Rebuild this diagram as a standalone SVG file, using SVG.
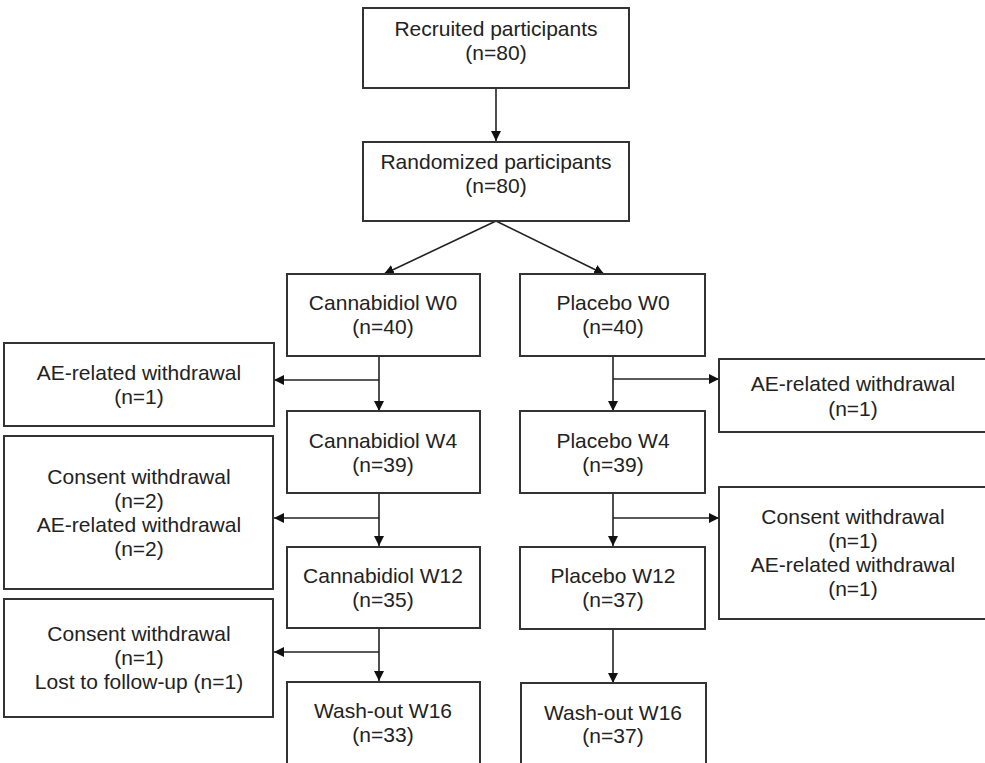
<svg xmlns="http://www.w3.org/2000/svg" width="985" height="763" viewBox="0 0 985 763">
<style>
.box{fill:#fff;stroke:#333;stroke-width:2}
.t{font-family:"Liberation Sans",Arial,sans-serif;font-size:21px;fill:#222;text-anchor:middle}
.c{fill:none;stroke:#222;stroke-width:1.6}
</style>
<defs>
<marker id="ah" markerUnits="userSpaceOnUse" markerWidth="11" markerHeight="10" refX="10" refY="5" orient="auto">
<path d="M0,0 L10,5 L0,10 z" fill="#111"/>
</marker>
</defs>
<rect width="985" height="763" fill="#fff"/>
<g id="connectors">
<path class="c" d="M496,88 V141" marker-end="url(#ah)"/>
<path class="c" d="M496,221 L384,274" marker-end="url(#ah)"/>
<path class="c" d="M496,221 L604,274" marker-end="url(#ah)"/>
<path class="c" d="M379,356 V411" marker-end="url(#ah)"/>
<path class="c" d="M379,380 H274" marker-end="url(#ah)"/>
<path class="c" d="M379,493 V546" marker-end="url(#ah)"/>
<path class="c" d="M379,518 H274" marker-end="url(#ah)"/>
<path class="c" d="M379,628 V681" marker-end="url(#ah)"/>
<path class="c" d="M379,652 H274" marker-end="url(#ah)"/>
<path class="c" d="M613,356 V411" marker-end="url(#ah)"/>
<path class="c" d="M613,379 H719" marker-end="url(#ah)"/>
<path class="c" d="M613,493 V546" marker-end="url(#ah)"/>
<path class="c" d="M613,518 H719" marker-end="url(#ah)"/>
<path class="c" d="M613,629 V683" marker-end="url(#ah)"/>
</g>
<g id="recruited">
<rect class="box" x="363" y="8" width="266" height="80"/>
<text class="t" x="496" y="36">Recruited participants</text>
<text class="t" x="496" y="60">(n=80)</text>
</g>
<g id="randomized">
<rect class="box" x="363" y="142" width="266" height="79"/>
<text class="t" x="496" y="169">Randomized participants</text>
<text class="t" x="496" y="193">(n=80)</text>
</g>
<g id="cbd-w0">
<rect class="box" x="287" y="274" width="193" height="82"/>
<text class="t" x="383" y="310">Cannabidiol W0</text>
<text class="t" x="383" y="334">(n=40)</text>
</g>
<g id="pl-w0">
<rect class="box" x="520" y="274" width="185" height="82"/>
<text class="t" x="613" y="310">Placebo W0</text>
<text class="t" x="613" y="334">(n=40)</text>
</g>
<g id="cbd-ae1">
<rect class="box" x="4" y="343" width="270" height="83"/>
<text class="t" x="139" y="380">AE-related withdrawal</text>
<text class="t" x="139" y="404">(n=1)</text>
</g>
<g id="pl-ae1">
<rect class="box" x="719" y="359" width="270" height="73"/>
<text class="t" x="853" y="391">AE-related withdrawal</text>
<text class="t" x="853" y="416">(n=1)</text>
</g>
<g id="cbd-w4">
<rect class="box" x="287" y="411" width="193" height="82"/>
<text class="t" x="383" y="448">Cannabidiol W4</text>
<text class="t" x="383" y="472">(n=39)</text>
</g>
<g id="pl-w4">
<rect class="box" x="520" y="411" width="185" height="82"/>
<text class="t" x="613" y="448">Placebo W4</text>
<text class="t" x="613" y="472">(n=39)</text>
</g>
<g id="cbd-wd2">
<rect class="box" x="4" y="436" width="269" height="153"/>
<text class="t" x="139" y="484">Consent withdrawal</text>
<text class="t" x="139" y="508">(n=2)</text>
<text class="t" x="139" y="532">AE-related withdrawal</text>
<text class="t" x="139" y="556">(n=2)</text>
</g>
<g id="pl-wd2">
<rect class="box" x="719" y="487" width="270" height="132"/>
<text class="t" x="853" y="524">Consent withdrawal</text>
<text class="t" x="853" y="548">(n=1)</text>
<text class="t" x="853" y="572">AE-related withdrawal</text>
<text class="t" x="853" y="596">(n=1)</text>
</g>
<g id="cbd-w12">
<rect class="box" x="287" y="547" width="193" height="81"/>
<text class="t" x="383" y="583">Cannabidiol W12</text>
<text class="t" x="383" y="607">(n=35)</text>
</g>
<g id="pl-w12">
<rect class="box" x="520" y="547" width="185" height="82"/>
<text class="t" x="613" y="583">Placebo W12</text>
<text class="t" x="613" y="607">(n=37)</text>
</g>
<g id="cbd-wd3">
<rect class="box" x="4" y="599" width="269" height="118"/>
<text class="t" x="139" y="641">Consent withdrawal</text>
<text class="t" x="139" y="665">(n=1)</text>
<text class="t" x="139" y="689">Lost to follow-up (n=1)</text>
</g>
<g id="cbd-w16">
<rect class="box" x="287" y="682" width="193" height="84"/>
<text class="t" x="383" y="718">Wash-out W16</text>
<text class="t" x="383" y="742">(n=33)</text>
</g>
<g id="pl-w16">
<rect class="box" x="521" y="683" width="185" height="84"/>
<text class="t" x="613" y="720">Wash-out W16</text>
<text class="t" x="613" y="743">(n=37)</text>
</g>
</svg>
